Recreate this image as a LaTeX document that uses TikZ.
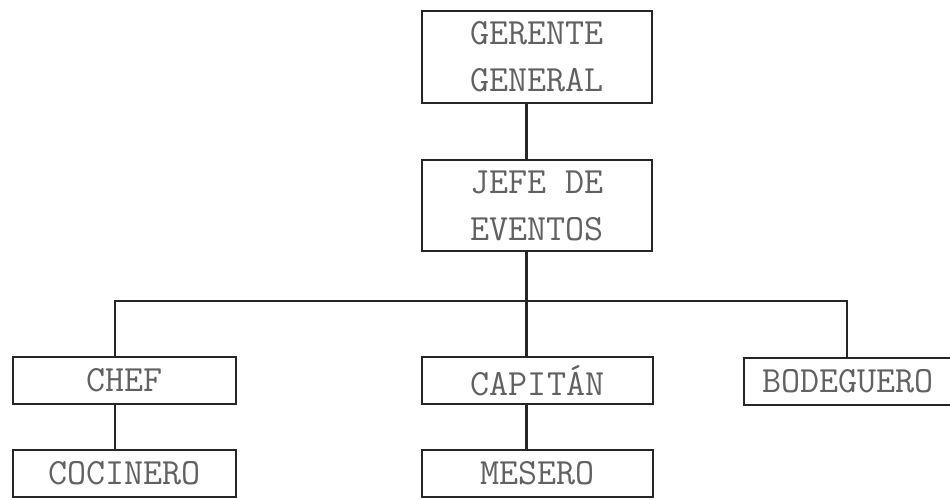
\documentclass[tikz,border=0pt]{standalone}
\begin{document}
\begin{tikzpicture}[x=1pt,y=-1pt,
  box/.style={draw=black!85,line width=2.8pt,rectangle,inner sep=0pt,align=center,
    text=black!62,font=\ttfamily\fontsize{37}{47}\selectfont},
  conn/.style={draw=black!85,line width=2.8pt}]
\useasboundingbox (0,0) rectangle (950,499);
\clip (0,0) rectangle (950,499);
\node[box,minimum width=230pt,minimum height=92pt] (gg) at (537,57) {GERENTE\\GENERAL};
\node[box,minimum width=230pt,minimum height=91pt] (jefe) at (537,205.5) {JEFE DE\\EVENTOS};
\node[box,minimum width=223pt,minimum height=47pt] (chef) at (124.5,380.5) {CHEF};
\node[box,minimum width=231pt,minimum height=47pt] (cap) at (537.5,380.5) {CAPITÁN};
\node[box,minimum width=208pt,minimum height=47pt] (bod) at (848,381.5) {BODEGUERO};
\node[box,minimum width=223pt,minimum height=47pt] (coc) at (124.5,473.5) {COCINERO};
\node[box,minimum width=231pt,minimum height=47pt] (mes) at (537.5,473.5) {MESERO};
\coordinate (trunk) at (526.5,301);
\coordinate (c1) at (115,301);
\coordinate (c3) at (847,301);
\draw[conn] (gg.south -| trunk) -- (jefe.north -| trunk);
\draw[conn] (jefe.south -| trunk) -- (cap.north -| trunk);
\draw[conn] (chef.north -| c1) -- (c1) -- (c3) -- (bod.north -| c3);
\draw[conn] (chef.south -| c1) -- (coc.north -| c1);
\draw[conn] (cap.south -| trunk) -- (mes.north -| trunk);
\end{tikzpicture}
\end{document}
